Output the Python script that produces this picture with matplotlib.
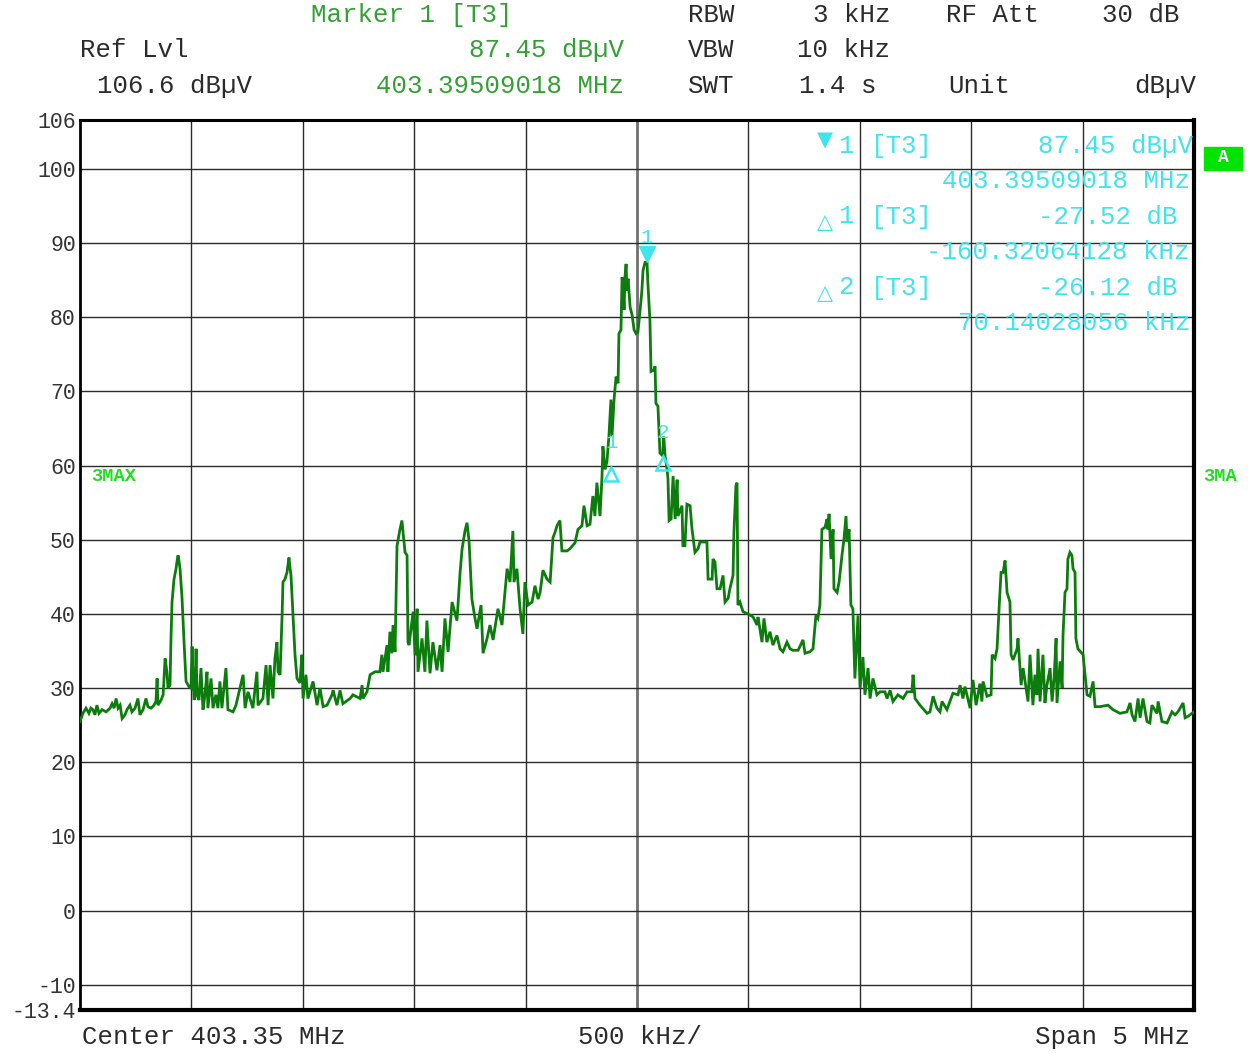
import numpy as np
import matplotlib.pyplot as plt
from matplotlib.patches import Rectangle
from matplotlib.transforms import offset_copy

# Analyzer settings
center_mhz = 403.35
span_mhz = 5.0
start_mhz = center_mhz - span_mhz / 2
ref_lvl = 106.6
range_db = 120.0
bottom_lvl = ref_lvl - range_db
div_khz = 500

# Trace 3 (max hold): offset from start frequency in kHz, level in dBuV
trace_khz = [
    0, 13, 27, 40, 49, 58, 67, 76, 85, 99, 117, 135, 144, 153, 162, 171, 180, 189,
    202, 211, 224, 233, 247, 260, 269, 283, 296, 305, 319, 332, 341, 346, 350, 364,
    373, 382, 390, 395, 404, 408, 413, 422, 431, 435, 440, 444, 449, 458, 467, 476,
    489, 498, 503, 507, 512, 516, 521, 525, 534, 543, 552, 561, 570, 574, 588, 597,
    610, 619, 628, 637, 655, 664, 687, 700, 732, 741, 754, 776, 794, 799, 821, 835,
    844, 853, 866, 875, 884, 889, 898, 907, 911, 920, 929, 938, 943, 947, 956, 965,
    974, 987, 996, 1001, 1014, 1023, 1046, 1064, 1077, 1091, 1109, 1131, 1136, 1153,
    1167, 1180, 1212, 1225, 1257, 1266, 1270, 1288, 1302, 1324, 1346, 1355, 1360,
    1378, 1382, 1391, 1400, 1405, 1414, 1423, 1436, 1445, 1450, 1459, 1468, 1472,
    1477, 1495, 1504, 1513, 1517, 1535, 1548, 1557, 1571, 1584, 1602, 1616, 1625,
    1638, 1652, 1670, 1692, 1706, 1715, 1728, 1737, 1746, 1759, 1773, 1782, 1800,
    1809, 1827, 1840, 1854, 1876, 1894, 1917, 1930, 1943, 1948, 1961, 1975, 1988,
    1997, 2011, 2029, 2042, 2056, 2065, 2078, 2096, 2110, 2123, 2132, 2141, 2154,
    2163, 2186, 2199, 2222, 2235, 2253, 2262, 2276, 2289, 2302, 2311, 2320, 2334,
    2343, 2347, 2356, 2365, 2374, 2383, 2388, 2397, 2406, 2415, 2419, 2428, 2433,
    2437, 2442, 2446, 2451, 2455, 2460, 2469, 2478, 2487, 2496, 2504, 2513, 2522,
    2527, 2536, 2545, 2549, 2558, 2563, 2576, 2581, 2585, 2594, 2603, 2615, 2620,
    2626, 2635, 2639, 2644, 2653, 2662, 2671, 2680, 2684, 2702, 2706, 2715, 2724,
    2738, 2747, 2751, 2760, 2774, 2783, 2796, 2814, 2819, 2837, 2841, 2850, 2859,
    2873, 2886, 2895, 2909, 2917, 2931, 2935, 2944, 2949, 2953, 2962, 2976, 2998,
    3021, 3039, 3043, 3061, 3070, 3083, 3097, 3110, 3128, 3142, 3155, 3173, 3187,
    3200, 3223, 3245, 3254, 3276, 3290, 3303, 3312, 3321, 3330, 3344, 3353, 3357,
    3362, 3371, 3380, 3384, 3398, 3407, 3420, 3429, 3438, 3443, 3452, 3460, 3469,
    3478, 3492, 3501, 3514, 3523, 3537, 3546, 3559, 3577, 3591, 3613, 3622, 3636,
    3649, 3671, 3694, 3712, 3734, 3739, 3748, 3770, 3802, 3815, 3829, 3846, 3860,
    3869, 3891, 3918, 3941, 3950, 3963, 3972, 3995, 4008, 4022, 4039, 4048, 4053,
    4071, 4089, 4094, 4107, 4116, 4125, 4134, 4143, 4152, 4161, 4174, 4179, 4188,
    4206, 4210, 4224, 4233, 4246, 4255, 4264, 4277, 4286, 4295, 4300, 4309, 4322,
    4331, 4340, 4354, 4363, 4372, 4381, 4385, 4399, 4408, 4412, 4421, 4430, 4434,
    4443, 4452, 4457, 4466, 4470, 4479, 4497, 4502, 4520, 4533, 4547, 4556, 4578,
    4614, 4636, 4668, 4699, 4713, 4722, 4735, 4749, 4758, 4771, 4789, 4802, 4811,
    4834, 4839, 4856, 4879, 4901, 4915, 4928, 4951, 4960, 4973, 5000,
]
trace_dbuv = [
    25.5, 26.6, 27.3, 26.6, 27.3, 27.1, 26.4, 27.7, 26.6, 27.1, 26.8, 27.3, 27.9, 27.3, 28.6, 27.3, 27.7, 25.9,
    26.4, 27.1, 27.7, 26.8, 27.3, 28.6, 26.4, 27.1, 28.6, 27.5, 27.3, 27.7, 28.2, 31.3, 27.7, 28.4,
    29.1, 34.0, 32.2, 30.0, 30.4, 36.2, 41.6, 44.7, 46.1, 47.0, 47.9, 47.2, 46.1, 42.1, 36.2, 30.9,
    30.2, 30.0, 35.6, 31.8, 28.4, 29.1, 35.3, 29.1, 28.4, 32.7, 27.1, 29.1, 32.2, 27.3, 31.3, 27.3,
    29.1, 27.3, 30.9, 27.3, 32.7, 27.1, 26.8, 27.7, 31.8, 27.3, 29.5, 27.3, 32.2, 27.7, 28.6, 33.1,
    27.7, 33.1, 28.6, 34.0, 36.2, 32.2, 31.8, 39.8, 44.3, 44.7, 45.6, 47.6, 46.1, 45.2, 39.8, 34.5,
    31.3, 30.7, 34.5, 28.6, 31.8, 28.6, 30.9, 27.7, 30.0, 27.5, 27.7, 29.1, 29.7, 27.7,
    29.7, 27.9, 28.6, 29.1, 28.6, 30.4, 28.6, 29.5, 31.8, 32.2, 32.2, 34.5, 32.2,
    35.8, 32.2, 37.6, 34.7, 38.5, 34.9, 49.2, 51.4, 52.6, 51.0, 48.3, 47.9, 36.2,
    35.8, 40.3, 34.4, 40.7, 32.2, 36.7, 32.2, 39.1, 32.0, 36.2, 32.4, 35.8, 32.2,
    39.4, 34.9, 41.6, 39.1, 45.6, 48.8, 51.2, 52.3, 49.9, 42.0, 39.4, 38.0, 41.2,
    34.7, 36.7, 38.5, 36.5, 40.7, 38.5, 46.1, 44.3, 51.2, 44.3, 46.1, 40.7, 37.3,
    44.3, 41.2, 41.6, 43.8, 42.0, 42.9, 45.9, 44.7, 44.3, 50.3, 51.0, 51.9, 52.6,
    48.5, 48.5, 48.8, 49.6, 51.4, 51.9, 54.6, 51.9, 52.1, 55.9, 53.2, 57.7, 53.2,
    58.6, 62.6, 59.5, 60.5, 64.0, 68.9, 64.0, 68.9, 72.0, 71.1, 77.8, 78.3, 85.4,
    84.5, 81.0, 85.4, 87.2, 83.6, 85.2, 81.4, 80.3, 78.3, 77.8, 78.0, 80.7, 83.6,
    86.3, 87.4, 87.45, 84.5, 79.6, 72.7, 72.9, 73.4, 68.4, 68.0, 61.7, 61.33, 63.9,
    61.3, 59.5, 58.2, 52.6, 52.8, 58.6, 52.8, 58.1, 53.2, 54.6, 49.2, 49.2, 54.8,
    54.6, 51.4, 50.5, 48.3, 48.8, 49.7, 49.7, 49.7, 44.7, 44.7, 47.4, 47.0, 43.4,
    43.4, 45.2, 41.6, 42.1, 43.4, 45.2, 51.0, 57.3, 57.7, 41.2, 41.6, 40.3, 40.0,
    39.6, 38.5, 39.6, 36.2, 39.4, 36.2, 37.6, 35.8, 37.1, 35.3, 34.9, 36.2, 35.3,
    35.1, 35.1, 36.5, 34.7, 34.9, 35.3, 39.8, 39.4, 41.2, 51.4, 51.7, 52.8, 51.4,
    53.5, 47.4, 51.4, 43.4, 42.9, 44.3, 47.9, 50.1, 53.2, 49.7, 51.4, 41.2, 40.7,
    31.3, 39.8, 30.0, 34.2, 29.1, 32.7, 28.6, 31.3, 29.1, 29.5, 29.5, 28.6, 29.7,
    28.2, 29.1, 28.6, 29.5, 29.5, 31.8, 28.6, 27.7, 26.6, 26.8, 28.9, 27.3, 26.8,
    28.2, 27.1, 29.3, 29.1, 30.4, 28.6, 30.2, 27.3, 31.1, 27.7, 30.6, 28.2, 30.9,
    28.9, 29.1, 34.5, 34.0, 35.3, 40.7, 45.6, 45.6, 47.2, 42.9, 41.6, 34.5, 33.8,
    35.3, 36.7, 30.4, 32.7, 30.0, 28.2, 34.5, 27.7, 31.8, 29.1, 35.3, 28.2, 34.5,
    28.0, 30.4, 32.7, 28.2, 31.3, 36.7, 28.0, 33.6, 30.0, 37.1, 42.9, 43.4, 47.4,
    48.3, 47.9, 46.1, 45.6, 36.7, 35.3, 34.7, 34.5, 29.1, 28.9, 30.9, 27.5, 27.5,
    27.7, 27.1, 26.6, 26.8, 28.0, 26.4, 25.5, 28.6, 26.0, 28.6, 25.5, 25.3, 27.7,
    26.6, 28.2, 25.5, 25.3, 26.8, 26.4, 26.8, 28.0, 26.0, 26.2, 26.8,
]

# Marker 1 (absolute) and delta markers relative to it
marker1_mhz = 403.39509018
marker1_dbuv = 87.45
delta_khz = [-160.32064128, 70.14028056]
delta_db = [-27.52, -26.12]

W, H = 1251, 1053
DARK = '#2b2b2b'
GREEN_TXT = '#33a033'
CYAN = '#40e4ec'
TRACE = '#0c7c0c'
BRIGHT = '#1ee01e'
MONO = ['Liberation Mono', 'DejaVu Sans Mono']
plt.rcParams['font.family'] = MONO

fig = plt.figure(figsize=(W / 100, H / 100), dpi=100)
ax = fig.add_axes([80 / W, (H - 1010) / H, 1114 / W, 890 / H])


def ftext(x, y, s, color=DARK, ha='left', size=18.5, **kw):
    # place text using pixel position from the top-left corner
    fig.text(x / W, 1 - y / H, s, color=color, ha=ha, va='center',
             fontsize=size, **kw)


freq = start_mhz + np.array(trace_khz) / 1000.0
ax.plot(freq, trace_dbuv, color=TRACE, lw=2.0, zorder=3,
        solid_joinstyle='miter')

ax.set_xlim(start_mhz, start_mhz + span_mhz)
ax.set_ylim(bottom_lvl, ref_lvl)

# graticule
grid_x = start_mhz + np.arange(0, span_mhz * 1000 + 1, div_khz) / 1000.0
for gx in grid_x[1:-1]:
    if abs(gx - center_mhz) < 1e-6:
        ax.axvline(gx, color='#707070', lw=2.0, zorder=1)
    else:
        ax.axvline(gx, color=DARK, lw=1.0, zorder=1)
for gy in range(-10, 101, 10):
    ax.axhline(gy, color=DARK, lw=1.0, zorder=1)

ax.set_xticks([])
yt = [ref_lvl] + list(range(100, -11, -10)) + [bottom_lvl]
ax.set_yticks(yt)
ax.set_yticklabels([f'{int(ref_lvl)}'] + [str(v) for v in range(100, -11, -10)]
                   + [f'{bottom_lvl:.1f}'])
ax.tick_params(axis='y', length=0, pad=3, labelsize=15.5, labelcolor='#333333')
for side, lw in (('left', 2.0), ('top', 2.2), ('right', 3.0), ('bottom', 3.0)):
    ax.spines[side].set_linewidth(lw)
    ax.spines[side].set_color('black')

# markers on the trace
down = offset_copy(ax.transData, fig=fig, y=5.5, units='points')
up = offset_copy(ax.transData, fig=fig, y=-5.5, units='points')
ax.plot([marker1_mhz], [marker1_dbuv], marker='v', ms=11, color=CYAN,
        transform=down, zorder=5, clip_on=False)
lab1 = offset_copy(ax.transData, fig=fig, y=18, units='points')
ax.text(marker1_mhz, marker1_dbuv, '1', color=CYAN, fontsize=15, ha='center',
        va='center', transform=lab1)
for i, (dk, dd) in enumerate(zip(delta_khz, delta_db)):
    fx = marker1_mhz + dk / 1000.0
    lv = marker1_dbuv + dd
    ax.plot([fx], [lv], marker='^', ms=10, mfc='none', mec=CYAN, mew=1.8,
            transform=up, zorder=5)
    labd = offset_copy(ax.transData, fig=fig, y=17, units='points')
    ax.text(fx, lv, str(i + 1), color=CYAN, fontsize=15, ha='center',
            va='center', transform=labd)

# header
ftext(311, 15, 'Marker 1 [T3]', GREEN_TXT)
ftext(80, 50, 'Ref Lvl')
ftext(624, 50, f'{marker1_dbuv:.2f} dBµV', GREEN_TXT, ha='right')
ftext(97, 86, f'{ref_lvl:.1f} dBµV')
ftext(624, 86, f'{marker1_mhz:.8f} MHz', GREEN_TXT, ha='right')
ftext(688, 15, 'RBW')
ftext(890, 15, '3 kHz', ha='right')
ftext(946, 15, 'RF Att')
ftext(1180, 15, '30 dB', ha='right')
ftext(688, 50, 'VBW')
ftext(890, 50, '10 kHz', ha='right')
ftext(688, 86, 'SWT')
ftext(799, 86, '1.4 s')
ftext(948, 86, 'Unit')
ftext(1196, 86, 'dBµV', ha='right')

# marker readout
ftext(825, 140, '▼', CYAN, ha='center', size=15, family='DejaVu Sans')
ftext(838, 146, '1', CYAN)
ftext(871, 146, '[T3]', CYAN)
ftext(1193, 146, f'{marker1_dbuv:.2f} dBµV', CYAN, ha='right')
ftext(1190, 181, f'{marker1_mhz:.8f} MHz', CYAN, ha='right')
for i, (dk, dd) in enumerate(zip(delta_khz, delta_db)):
    row = 217 + i * 71
    ftext(825, row + 5, '△', CYAN, ha='center', size=15, family='DejaVu Sans',
          weight='bold')
    ftext(838, row - 1, str(i + 1), CYAN)
    ftext(871, row, '[T3]', CYAN)
    ftext(1178, row, f'{dd:.2f} dB', CYAN, ha='right')
    ftext(1190, row + 35, f'{dk:.8f} kHz', CYAN, ha='right')

# trace / screen indicators
fig.patches.append(Rectangle((1204 / W, 1 - 170 / H), 38 / W, 23 / H,
                             transform=fig.transFigure, facecolor='#00e400',
                             edgecolor='#00e400'))
ftext(1223, 158, 'A', 'white', ha='center', size=13, weight='bold')
ftext(91, 477, '3MAX', BRIGHT, size=13.5, weight='bold')
ftext(1203, 477, '3MA', BRIGHT, size=13.5, weight='bold')

# footer
ftext(82, 1037, f'Center {center_mhz:.2f} MHz')
ftext(578, 1037, f'{div_khz} kHz/')
ftext(1190, 1037, f'Span {span_mhz:g} MHz', ha='right')

fig.savefig('out.png', dpi=100, facecolor='white')
